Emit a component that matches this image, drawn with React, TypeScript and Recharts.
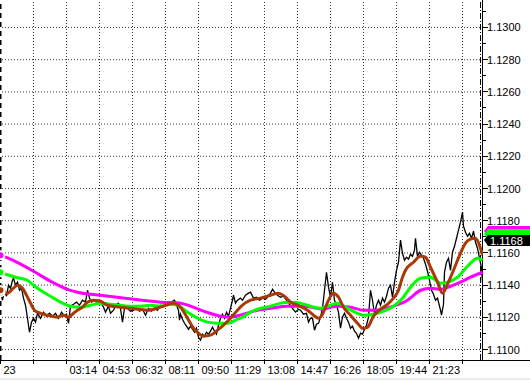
import { LineChart, Line, XAxis, YAxis, ReferenceLine, ReferenceDot } from "recharts";

/* ---------- axis ticks ---------- */

// minutes from the start of the chart, one label every 99 minutes
const TIME_TICKS = [0, 99, 198, 297, 396, 495, 594, 693, 792, 891, 990, 1089, 1188, 1287, 1386];
const TIME_LABELS = ["23", "", "03:14", "04:53", "06:32", "08:11", "09:50", "11:29", "13:08", "14:47", "16:26", "18:05", "19:44", "21:23", ""];

const PRICE_TICKS = [
  1.11, 1.111, 1.112, 1.113, 1.114, 1.115, 1.116, 1.117, 1.118, 1.119, 1.12,
  1.121, 1.122, 1.123, 1.124, 1.125, 1.126, 1.127, 1.128, 1.129, 1.13, 1.131,
];
const GRID_LEVELS = [1.11, 1.112, 1.114, 1.116, 1.118, 1.12, 1.122, 1.124, 1.126, 1.128, 1.13];

const LAST_PRICE = 1.1168;
const TAGS = [
  { price: 1.11735, color: "#ff00ff" },
  { price: 1.11715, color: "#00ff00" },
];

/* ---------- series: [minute, price] ---------- */

const CLOSE: [number, number][] = [
  [0, 1.11356], [6, 1.11306], [12, 1.11368], [18, 1.11331], [24, 1.11399], [30, 1.11381], [36, 1.1143], [39, 1.11443],
  [45, 1.11399], [51, 1.11418], [57, 1.11368], [63, 1.11381], [69, 1.11319], [75, 1.11275], [81, 1.11194], [87, 1.11107],
  [93, 1.1117], [99, 1.11194], [105, 1.1117], [111, 1.11225], [120, 1.11194], [129, 1.11232], [138, 1.11207], [147, 1.11225],
  [156, 1.11207], [165, 1.11225], [174, 1.11194], [183, 1.11232], [192, 1.11207], [198, 1.11219], [204, 1.11163], [210, 1.11269],
  [219, 1.11281], [228, 1.11294], [237, 1.11275], [246, 1.11306], [255, 1.11294], [261, 1.11368], [267, 1.11319], [273, 1.11294],
  [282, 1.11306], [291, 1.11288], [300, 1.11294], [309, 1.11263], [315, 1.11232], [324, 1.11269], [330, 1.11225], [339, 1.11244],
  [348, 1.11281], [354, 1.11288], [360, 1.11256], [366, 1.1117], [372, 1.11256], [381, 1.11256], [390, 1.11238], [399, 1.11244],
  [408, 1.11256], [417, 1.11238], [426, 1.1125], [435, 1.11213], [444, 1.11256], [453, 1.11238], [462, 1.11256], [471, 1.11244],
  [480, 1.11275], [489, 1.11269], [498, 1.11281], [507, 1.11288], [516, 1.113], [522, 1.11306], [528, 1.11275], [534, 1.11244],
  [537, 1.11182], [540, 1.11219], [546, 1.11188], [552, 1.11163], [558, 1.11145], [564, 1.11126], [570, 1.11145], [576, 1.11126],
  [582, 1.11107], [588, 1.11132], [594, 1.11076], [600, 1.11058], [606, 1.11095], [612, 1.11083], [618, 1.11107], [624, 1.11095],
  [630, 1.11114], [636, 1.11138], [642, 1.11114], [648, 1.11095], [654, 1.11151], [660, 1.11194], [666, 1.11219], [672, 1.11194],
  [678, 1.11232], [684, 1.11207], [690, 1.11256], [696, 1.11306], [699, 1.11337], [705, 1.11288], [711, 1.11306], [720, 1.11319],
  [726, 1.11306], [735, 1.11337], [744, 1.1135], [750, 1.11356], [759, 1.11319], [768, 1.11325], [777, 1.11306], [786, 1.11319],
  [795, 1.11312], [804, 1.11331], [810, 1.1135], [816, 1.11374], [822, 1.11356], [831, 1.11337], [840, 1.11325], [849, 1.11331],
  [858, 1.11306], [867, 1.11281], [876, 1.11256], [885, 1.11232], [894, 1.1125], [900, 1.11244], [909, 1.11219], [918, 1.11225],
  [924, 1.1117], [930, 1.11194], [936, 1.11194], [942, 1.1112], [948, 1.11157], [954, 1.11163], [960, 1.11201], [966, 1.11256],
  [972, 1.11368], [978, 1.1148], [984, 1.11387], [990, 1.11325], [996, 1.11418], [1002, 1.11306], [1008, 1.11275], [1014, 1.11232],
  [1020, 1.11132], [1026, 1.11201], [1032, 1.11225], [1038, 1.11194], [1044, 1.1117], [1050, 1.11132], [1056, 1.11145], [1062, 1.11114],
  [1068, 1.11101], [1074, 1.1107], [1080, 1.11101], [1086, 1.11095], [1092, 1.11126], [1098, 1.11151], [1104, 1.11201], [1110, 1.11368],
  [1116, 1.11306], [1122, 1.11219], [1128, 1.11275], [1134, 1.11306], [1140, 1.11275], [1146, 1.11319], [1152, 1.11294], [1158, 1.11331],
  [1164, 1.11381], [1170, 1.11399], [1176, 1.11325], [1182, 1.11418], [1188, 1.11492], [1194, 1.11542], [1200, 1.11679], [1206, 1.11598],
  [1212, 1.11555], [1218, 1.11573], [1224, 1.11561], [1230, 1.11592], [1236, 1.11579], [1242, 1.11617], [1245, 1.11691], [1251, 1.11579],
  [1257, 1.11604], [1263, 1.11586], [1269, 1.11567], [1275, 1.1153], [1281, 1.11486], [1287, 1.1143], [1293, 1.11368], [1299, 1.11343],
  [1305, 1.11306], [1311, 1.11319], [1317, 1.11269], [1320, 1.11244], [1323, 1.11213], [1329, 1.11281], [1332, 1.1148], [1338, 1.11542],
  [1344, 1.11567], [1350, 1.11492], [1356, 1.11604], [1362, 1.11641], [1368, 1.11691], [1374, 1.11741], [1380, 1.11791], [1386, 1.11853],
  [1389, 1.11766], [1395, 1.11728], [1401, 1.11704], [1407, 1.11722], [1413, 1.11691], [1419, 1.11735], [1425, 1.11666], [1431, 1.11629],
  [1437, 1.11567], [1443, 1.11505], [1446, 1.11418],
];

const MA_FAST: [number, number][] = [
  [0, 1.11368], [21, 1.1135], [39, 1.11381], [51, 1.11399], [66, 1.11381], [81, 1.11325], [90, 1.11288], [102, 1.11244],
  [120, 1.11225], [141, 1.11213], [171, 1.11201], [189, 1.11213], [204, 1.11201], [219, 1.11225], [231, 1.11244], [246, 1.11263],
  [261, 1.11294], [279, 1.11306], [300, 1.113], [321, 1.11275], [360, 1.11263], [390, 1.11256], [441, 1.11244], [480, 1.11263],
  [519, 1.11288], [540, 1.11263], [561, 1.11194], [579, 1.11132], [594, 1.11101], [609, 1.11083], [630, 1.11089], [651, 1.1112],
  [669, 1.11151], [690, 1.11194], [711, 1.11244], [726, 1.11275], [750, 1.11306], [780, 1.11319], [810, 1.11337], [834, 1.1135],
  [855, 1.11325], [870, 1.11294], [891, 1.11275], [921, 1.11244], [939, 1.11213], [954, 1.11194], [966, 1.11219], [975, 1.11263],
  [984, 1.11306], [999, 1.1135], [1014, 1.11325], [1029, 1.11263], [1050, 1.11213], [1071, 1.11163], [1086, 1.11132], [1101, 1.11138],
  [1119, 1.11207], [1140, 1.1125], [1161, 1.11281], [1179, 1.11319], [1194, 1.11368], [1206, 1.11449], [1215, 1.11492], [1239, 1.11542],
  [1260, 1.11579], [1275, 1.11573], [1290, 1.11511], [1311, 1.11418], [1326, 1.1135], [1341, 1.11406], [1359, 1.11492], [1380, 1.11598],
  [1395, 1.1166], [1410, 1.11685], [1425, 1.11691], [1440, 1.11629], [1446, 1.11586],
];

const MA_MID: [number, number][] = [
  [0, 1.1148], [45, 1.11449], [81, 1.1143], [99, 1.11399], [129, 1.11356], [150, 1.11331], [180, 1.11294], [210, 1.11269],
  [240, 1.11263], [270, 1.11275], [300, 1.11288], [330, 1.11281], [360, 1.11275], [390, 1.11269], [420, 1.11269], [450, 1.11275],
  [480, 1.11269], [510, 1.11281], [531, 1.11275], [561, 1.11232], [591, 1.11194], [621, 1.1117], [651, 1.11163], [681, 1.11163],
  [711, 1.11188], [726, 1.11201], [750, 1.11232], [780, 1.11256], [810, 1.11269], [840, 1.11288], [870, 1.11294], [900, 1.11288],
  [930, 1.11269], [960, 1.11256], [990, 1.11275], [1011, 1.11288], [1041, 1.11256], [1071, 1.11225], [1089, 1.11213], [1119, 1.11219],
  [1149, 1.11238], [1179, 1.11269], [1206, 1.11319], [1230, 1.11387], [1260, 1.11443], [1290, 1.11449], [1320, 1.11412], [1341, 1.11418],
  [1371, 1.11449], [1401, 1.11517], [1431, 1.11567], [1446, 1.11555],
];

const MA_SLOW: [number, number][] = [
  [0, 1.11586], [30, 1.11561], [60, 1.1153], [99, 1.11486], [150, 1.11424], [201, 1.11374], [231, 1.11356], [300, 1.11337],
  [399, 1.11312], [480, 1.11294], [540, 1.11288], [570, 1.11269], [609, 1.11238], [660, 1.11207], [690, 1.11201], [729, 1.11219],
  [771, 1.11244], [810, 1.11256], [861, 1.11269], [909, 1.11269], [951, 1.11256], [969, 1.1125], [990, 1.11263], [1011, 1.11269],
  [1050, 1.11263], [1089, 1.11244], [1119, 1.11244], [1179, 1.11269], [1221, 1.11306], [1260, 1.11368], [1290, 1.11381], [1320, 1.11374],
  [1350, 1.11393], [1380, 1.11418], [1410, 1.11449], [1446, 1.1148],
];

const toPoints = (arr: [number, number][]) => arr.map(([t, v]) => ({ t, v }));

const FONT = "'Liberation Sans', Arial, sans-serif";
const X_DOMAIN: [number, number] = [-1.5, 1447.5];
const Y_DOMAIN: [number, number] = [1.109348, 1.131708];

function TimeTick({ x, y, payload }: any) {
  const label = TIME_LABELS[TIME_TICKS.indexOf(payload.value)];
  const xx = Math.floor(x) + 0.5;
  return (
    <g>
      <line x1={xx} x2={xx} y1={y} y2={y + 4} stroke="#000" />
      {label ? (
        <text x={x + 3} y={y + 14} fontSize={11} fontFamily={FONT} fill="#000">
          {label}
        </text>
      ) : null}
    </g>
  );
}

function PriceTick({ x, y, payload }: any) {
  const major = Math.round(payload.value * 10000) % 20 === 0;
  const yy = Math.floor(y) + 0.5;
  return (
    <g>
      <line x1={x} x2={x + (major ? 5 : 3)} y1={yy} y2={yy} stroke="#000" />
      {major ? (
        <text x={x + 4} y={y + 4} fontSize={11} fontFamily={FONT} fill="#000">
          {payload.value.toFixed(4)}
        </text>
      ) : null}
    </g>
  );
}

function PriceTag({ cx, cy, color, text }: any) {
  const x = Math.round(cx);
  const y = Math.round(cy);
  return (
    <g>
      <polygon
        points={`${x + 1},${y} ${x + 5},${y - 5} ${x + 48},${y - 5} ${x + 48},${y + 6} ${x + 5},${y + 6}`}
        fill={color}
      />
      {text ? (
        <text x={x + 7} y={y + 4.5} fontSize={11} fontFamily={FONT} fill="#fff">
          {text}
        </text>
      ) : null}
    </g>
  );
}

export default function App() {
  return (
    <div style={{ position: "absolute", left: 0, top: 0, width: 530, height: 380, background: "#fff", overflow: "hidden" }}>
      <LineChart width={530} height={380} margin={{ top: 0, right: 0, bottom: 0, left: 0 }}>
        <XAxis
          type="number"
          dataKey="t"
          domain={X_DOMAIN}
          allowDataOverflow
          ticks={TIME_TICKS}
          interval={0}
          height={20}
          tickSize={0}
          tickMargin={0}
          axisLine={false}
          tickLine={false}
          tick={(p: any) => <TimeTick {...p} />}
        />
        <YAxis
          orientation="right"
          type="number"
          dataKey="v"
          domain={Y_DOMAIN}
          allowDataOverflow
          ticks={PRICE_TICKS}
          interval={0}
          width={47}
          tickSize={0}
          tickMargin={0}
          axisLine={false}
          tickLine={false}
          tick={(p: any) => <PriceTick {...p} />}
        />

        {/* dotted grid */}
        {GRID_LEVELS.map((lv) => (
          <ReferenceLine key={"h" + lv} y={lv} stroke="#333" strokeDasharray="1 2" />
        ))}
        {TIME_TICKS.slice(1).map((t) => (
          <ReferenceLine key={"v" + t} x={t} stroke="#333" strokeDasharray="1 2" />
        ))}

        {/* separators / axis line */}
        <ReferenceLine x={0} stroke="#000" strokeWidth={2} strokeDasharray="5 4" />
        <ReferenceLine x={1440} stroke="#000" strokeDasharray="6 2 1 2" />
        <ReferenceLine x={1446} stroke="#000" />

        <Line data={toPoints(CLOSE)} dataKey="v" type="linear" stroke="#000" strokeWidth={1.3} dot={false} isAnimationActive={false} />
        <Line data={toPoints(MA_SLOW)} dataKey="v" type="monotone" stroke="#ff00ff" strokeWidth={3} dot={false} isAnimationActive={false} />
        <Line data={toPoints(MA_MID)} dataKey="v" type="monotone" stroke="#00ff00" strokeWidth={3} dot={false} isAnimationActive={false} />
        <Line data={toPoints(MA_FAST)} dataKey="v" type="monotone" stroke="#a83a08" strokeWidth={3} dot={false} isAnimationActive={false} />

        {/* price tags on the right scale */}
        {TAGS.map((tag) => (
          <ReferenceDot
            key={tag.color}
            x={1446}
            y={tag.price}
            ifOverflow="visible"
            shape={(p: any) => <PriceTag {...p} color={tag.color} />}
          />
        ))}
        <ReferenceDot
          x={1446}
          y={LAST_PRICE}
          ifOverflow="visible"
          shape={(p: any) => <PriceTag {...p} color="#000" text={LAST_PRICE.toFixed(4)} />}
        />
      </LineChart>
      <div style={{ position: "absolute", left: 0, top: 360, width: 530, height: 1, background: "#000" }} />
      <div style={{ position: "absolute", left: 0, top: 378, width: 530, height: 2, background: "#ececec" }} />
    </div>
  );
}
